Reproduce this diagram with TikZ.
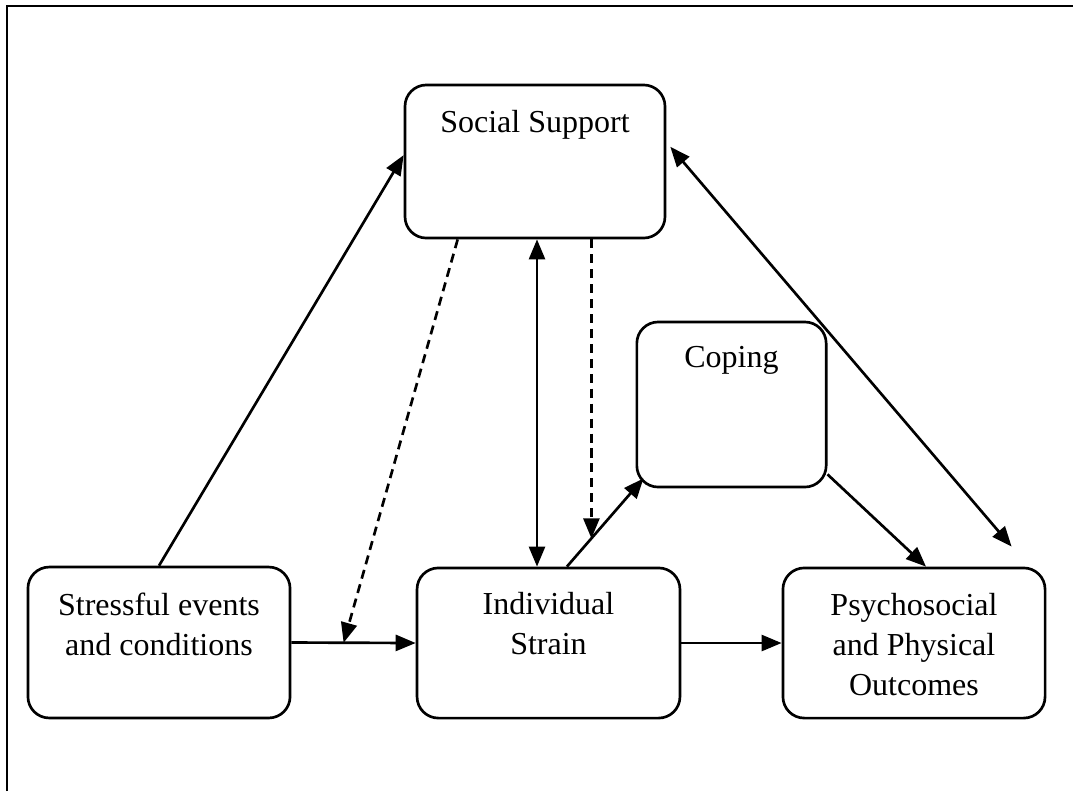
\documentclass[tikz,border=0pt]{standalone}
\usepackage{fontspec}
\setmainfont{Liberation Serif}
\usetikzlibrary{arrows.meta,calc}

\tikzset{
  box/.style={draw, line width=1pt, rounded corners=8pt, inner sep=0pt},
  txt/.style={anchor=north, inner sep=0pt, align=center, font=\fontsize{12}{15}\selectfont},
  conn/.style={line width=1pt},
  dashline/.style={line width=1pt, dash pattern=on 3.4pt off 2.2pt},
  >={Triangle[length=7.5pt,width=6pt]}
}

\begin{document}
\begin{tikzpicture}[x=0.375pt, y=-0.375pt]

\useasboundingbox (0,0) rectangle (1073,791);

% frame
\draw [line width=1.1pt] (7,791) -- (7,6) -- (1073,6);

% boxes
\node [box, minimum width=97.5pt, minimum height=57.4pt] (social) at (535,161.5) {};
\node [box, minimum width=71pt, minimum height=61.9pt] (coping) at (731.5,404.5) {};
\node [box, minimum width=98.3pt, minimum height=56.6pt] (stress) at (159,642.5) {};
\node [box, minimum width=98.6pt, minimum height=56.3pt] (strain) at (548.5,643) {};
\node [box, minimum width=98.3pt, minimum height=56.3pt] (outcome) at (914,643) {};

\node [txt] (socialtxt) at ([yshift=-9.75pt]social.north) {Social Support};
\node [txt] (copingtxt) at ([yshift=-9.6pt]coping.north) {Coping};
\node [txt] (stresstxt) at ([yshift=-10pt]stress.north) {Stressful events\\and conditions};
\node [txt] (straintxt) at ([yshift=-9.4pt]strain.north) {Individual\\Strain};
\node [txt] (outcometxt) at ([yshift=-9.9pt]outcome.north) {Psychosocial\\and Physical\\Outcomes};

% helper points
\coordinate (m1) at ($(stress.east)!0.42!(strain.west)$);
\coordinate (c1) at ([xshift=6.9pt]strain.north);
\coordinate (c2) at ([shift={(3pt,3.75pt)}]coping.south west);
\coordinate (m2) at ($(c1)!0.32!(c2)$);
\coordinate (s1) at ([xshift=0.75pt]social.south);

% solid arrows
\draw [conn,->] (stress.north) -- ([yshift=2.4pt]social.west);
\draw [conn,->] (stress.east) -- (strain.west);
\draw [conn,->] (strain.east) -- (outcome.west);
\draw [conn,->] (c1) -- (c2);
\draw [conn,->] ([yshift=5.25pt]coping.south east) -- ([xshift=4.5pt]outcome.north);
\draw [conn,<->] (s1) -- (s1 |- strain.north);
\draw [conn,<->] ([shift={(1.5pt,5.5pt)}]social.east) -- ([shift={(36.6pt,7.5pt)}]outcome.north);

% dashed arrows
\draw [dashline,->] ([xshift=-29pt]social.south) -- (m1);
\draw [dashline,->] (m2 |- social.south) -- (m2);

\end{tikzpicture}
\end{document}
